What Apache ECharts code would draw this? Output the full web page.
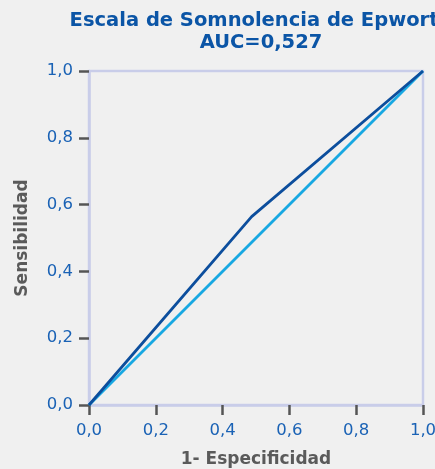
<!DOCTYPE html>
<html>
<head>
<meta charset="utf-8">
<script src="https://cdn.jsdelivr.net/npm/echarts@6/dist/echarts.min.js"></script>
<style>
  html, body { margin: 0; padding: 0; background: #f0f0f0; }
  #chart { width: 435px; height: 469px; }
</style>
</head>
<body>
<div id="chart"></div>
<script>
// ROC curve points: [1 - specificity, sensitivity]
const rocCurve = [[0, 0], [0.487, 0.564], [1, 1]];
// Reference (chance) line
const chanceLine = [[0, 0], [1, 1]];
const titleText = 'Escala de Somnolencia de Epworth\nAUC=0,527';
const xAxisName = '1- Especificidad';
const yAxisName = 'Sensibilidad';

const fmt = v => v.toFixed(1).replace('.', ',');
const labelFont = { color: '#1a62b5', fontSize: 16.5, fontFamily: 'DejaVu Sans' };
const tickStyle = { show: true, inside: false, length: 10, lineStyle: { color: '#555', width: 2.5 } };

const chart = echarts.init(document.getElementById('chart'));
chart.setOption({
  backgroundColor: '#f0f0f0',
  animation: false,
  title: {
    text: titleText,
    left: 256,
    top: 5,
    textAlign: 'center',
    textStyle: { color: '#0b55a6', fontSize: 19.5, fontWeight: 'bold', fontFamily: 'DejaVu Sans', lineHeight: 22 }
  },
  grid: {
    left: 89, right: 12, top: 71, bottom: 64,
    containLabel: false, outerBoundsMode: 'none',
    show: true, borderColor: '#c9cde9', borderWidth: 2.5, backgroundColor: 'transparent'
  },
  xAxis: {
    type: 'value', min: 0, max: 1, interval: 0.2,
    name: xAxisName, nameLocation: 'middle', nameGap: 46,
    nameTextStyle: { color: '#5a5a5a', fontSize: 17, fontWeight: 'bold', fontFamily: 'DejaVu Sans' },
    axisLine: { show: true, lineStyle: { color: '#c9cde9', width: 2.5 } },
    axisTick: tickStyle,
    splitLine: { show: false },
    axisLabel: Object.assign({ formatter: fmt, margin: 17 }, labelFont)
  },
  yAxis: {
    type: 'value', min: 0, max: 1, interval: 0.2,
    name: yAxisName, nameLocation: 'middle', nameGap: 58,
    nameTextStyle: { color: '#5a5a5a', fontSize: 17, fontWeight: 'bold', fontFamily: 'DejaVu Sans' },
    axisLine: { show: true, lineStyle: { color: '#c9cde9', width: 2.5 } },
    axisTick: tickStyle,
    splitLine: { show: false },
    axisLabel: Object.assign({ formatter: fmt, margin: 16 }, labelFont)
  },
  series: [
    {
      type: 'line', data: chanceLine, symbol: 'none',
      lineStyle: { color: '#18a8e2', width: 2.8 }, z: 2
    },
    {
      type: 'line', data: rocCurve, symbol: 'none',
      lineStyle: { color: '#0c4e9d', width: 2.8 }, z: 3
    }
  ]
});
</script>
</body>
</html>
